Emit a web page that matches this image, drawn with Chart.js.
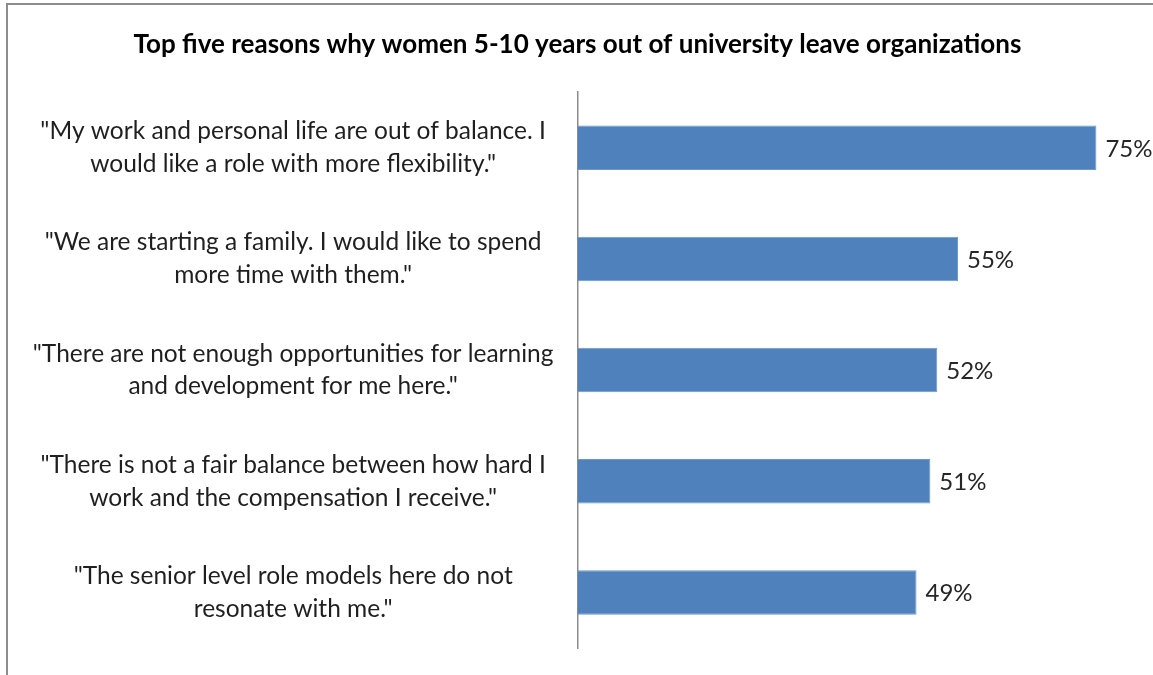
<!DOCTYPE html>
<html>
<head>
<meta charset="utf-8">
<script src="https://cdn.jsdelivr.net/npm/chart.js@4"></script>
<style>
  html, body { margin: 0; padding: 0; background: #fff; }
  #wrap { position: relative; width: 1153px; height: 675px; }
  #frame { position: absolute; left: 6px; top: 3px; right: -4px; bottom: -4px;
           border-left: 2px solid #8c8c8c; border-top: 2px solid #8c8c8c; pointer-events: none; }
</style>
</head>
<body>
<div id="wrap">
  <canvas id="barChart" width="1153" height="675"></canvas>
  <div id="frame"></div>
</div>
<script>
const chartTitle = "Top five reasons why women 5-10 years out of university leave organizations";

const reasons = [
    ["\"My work and personal life are out of balance. I", "would like a role with more flexibility.\""],
    ["\"We are starting a family. I would like to spend", "more time with them.\""],
    ["\"There are not enough opportunities for learning", "and development for me here.\""],
    ["\"There is not a fair balance between how hard I", "work and the compensation I receive.\""],
    ["\"The senior level role models here do not", "resonate with me.\""]
];

const percentages = [75, 55, 52, 51, 49];

const fontFamily = "Lato, 'Open Sans', sans-serif";

// writes "75%" etc. just right of each bar
const valueLabels = {
    id: 'valueLabels',
    afterDatasetsDraw(chart) {
        const ctx = chart.ctx;
        const meta = chart.getDatasetMeta(0);
        ctx.save();
        ctx.font = "24px " + fontFamily;
        ctx.fillStyle = "#262626";
        ctx.textAlign = "left";
        ctx.textBaseline = "middle";
        meta.data.forEach((bar, i) => {
            ctx.fillText(percentages[i] + "%", bar.x + 9, bar.y + 1);
        });
        ctx.restore();
    }
};

new Chart(document.getElementById('barChart'), {
    type: 'bar',
    data: {
        labels: reasons,
        datasets: [{
            label: "",
            data: percentages,
            backgroundColor: "#4F81BD",
            borderColor: "#6E98CC",
            borderWidth: 1,
            barPercentage: 0.4,
            categoryPercentage: 1.0
        }]
    },
    options: {
        indexAxis: 'y',
        responsive: false,
        animation: false,
        layout: {
            padding: { left: 24, right: 22, top: 0, bottom: 27 }
        },
        scales: {
            x: {
                display: false,
                min: 0,
                max: 80
            },
            y: {
                grid: { display: false, drawTicks: false },
                border: { display: true, color: "#8c8c8c", width: 1.5 },
                ticks: {
                    crossAlign: 'center',
                    padding: 24,
                    color: "#1f1f1f",
                    font: { family: fontFamily, size: 24.5, lineHeight: 1.34 }
                },
                // multi-line labels would otherwise push the plot up from the bottom
                afterFit(scale) {
                    scale.paddingTop = 0;
                    scale.paddingBottom = 0;
                }
            }
        },
        plugins: {
            legend: { display: false },
            tooltip: { enabled: false },
            title: {
                display: true,
                text: chartTitle,
                color: "#000",
                font: { family: fontFamily, size: 26, weight: 'bold', lineHeight: 1.2 },
                padding: { top: 29, bottom: 32 }
            }
        }
    },
    plugins: [valueLabels]
});
</script>
</body>
</html>
